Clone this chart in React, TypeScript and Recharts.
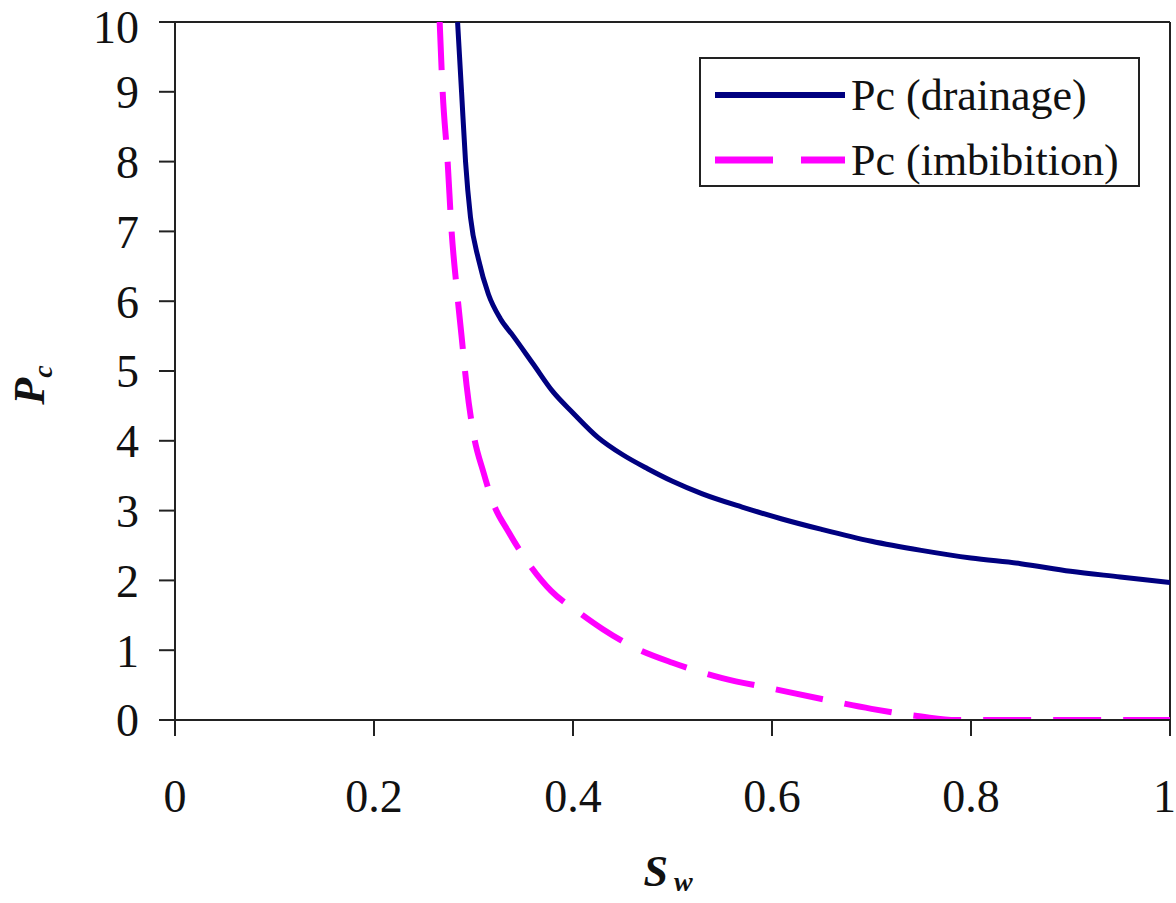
import React from "react";
import {
  LineChart,
  Line,
  XAxis,
  YAxis,
  Legend,
  ReferenceLine,
  Label,
} from "recharts";

// Pc vs Sw, drainage and imbibition
const drainageSw = [0.284, 0.288, 0.292, 0.297, 0.305, 0.315, 0.327, 0.34, 0.36, 0.38, 0.4, 0.425, 0.45, 0.475, 0.5, 0.53, 0.57, 0.61, 0.65, 0.7, 0.75, 0.8, 0.85, 0.9, 0.95, 1.0];
const drainagePc = [10, 9, 8, 7.2, 6.6, 6.1, 5.75, 5.5, 5.1, 4.7, 4.4, 4.05, 3.8, 3.6, 3.42, 3.24, 3.05, 2.88, 2.73, 2.56, 2.43, 2.32, 2.24, 2.13, 2.05, 1.97];

const imbibitionSw = [0.266, 0.269, 0.274, 0.278, 0.283, 0.288, 0.293, 0.3, 0.31, 0.32, 0.335, 0.355, 0.378, 0.405, 0.43, 0.46, 0.5, 0.55, 0.6, 0.65, 0.7, 0.75, 0.785, 0.85, 1.0];
const imbibitionPc = [10, 9, 8, 7, 6.2, 5.5, 4.8, 4.1, 3.55, 3.1, 2.7, 2.25, 1.85, 1.55, 1.3, 1.05, 0.82, 0.6, 0.45, 0.3, 0.16, 0.05, 0, 0, 0];

const xTicks = [0, 0.2, 0.4, 0.6, 0.8, 1];
const yTicks = [0, 1, 2, 3, 4, 5, 6, 7, 8, 9, 10];

const seriesNames = ["Pc (drainage)", "Pc (imbibition)"];

const drainage = drainageSw.map((sw, i) => ({ sw, pc: drainagePc[i] }));
const imbibition = imbibitionSw.map((sw, i) => ({ sw, pc: imbibitionPc[i] }));

const FONT = "'Liberation Serif', 'Times New Roman', serif";
const NAVY = "#000080";
const MAGENTA = "#ff00ff";

const LegendBox = () => (
  <div
    style={{
      width: 437,
      height: 126,
      border: "2px solid #222",
      background: "#fff",
      fontFamily: FONT,
      fontSize: 44,
      color: "#111",
      position: "relative",
    }}
  >
    {seriesNames.map((name, i) => (
      <div
        key={name}
        style={{
          position: "absolute",
          left: 12,
          top: i === 0 ? 10 : 75,
          height: 52,
          display: "flex",
          alignItems: "center",
          whiteSpace: "nowrap",
        }}
      >
        <svg width={134} height={12} style={{ marginRight: 4 }}>
          <line
            x1={2}
            y1={6}
            x2={132}
            y2={6}
            stroke={i === 0 ? NAVY : MAGENTA}
            strokeWidth={i === 0 ? 6 : 7}
            strokeDasharray={i === 0 ? undefined : "58 28"}
          />
        </svg>
        <span>{name}</span>
      </div>
    ))}
  </div>
);

const YTitle = () => (
  <text
    transform="translate(44,385) rotate(-90)"
    textAnchor="middle"
    fontFamily={FONT}
    fontSize={44}
    fontWeight="bold"
    fontStyle="italic"
    fill="#111"
  >
    P<tspan fontSize={28} dy={8}>c</tspan>
  </text>
);

const XTitle = () => (
  <text
    x={668}
    y={886}
    textAnchor="middle"
    fontFamily={FONT}
    fontSize={44}
    fontWeight="bold"
    fontStyle="italic"
    fill="#111"
  >
    S<tspan fontSize={28} dx={6} dy={5}>w</tspan>
  </text>
);

export default function App() {
  return (
    <div style={{ position: "absolute", left: 0, top: 0, background: "#fff" }}>
      <LineChart
        width={1176}
        height={903}
        margin={{ top: 22, right: 6, bottom: 83, left: 75 }}
      >
        <XAxis
          type="number"
          dataKey="sw"
          domain={[0, 1]}
          ticks={xTicks}
          tickFormatter={(v) => String(v)}
          allowDataOverflow
          height={100}
          tickSize={16}
          tickMargin={43}
          stroke="#222"
          strokeWidth={2}
          tick={{ fill: "#111", fontSize: 46, fontFamily: FONT }}
        >
          <Label content={XTitle} />
        </XAxis>
        <YAxis
          type="number"
          domain={[0, 10]}
          ticks={yTicks}
          allowDataOverflow
          width={100}
          tickSize={16}
          tickMargin={20}
          stroke="#222"
          strokeWidth={2}
          tick={{ fill: "#111", fontSize: 46, fontFamily: FONT }}
        >
          <Label content={YTitle} />
        </YAxis>
        <ReferenceLine y={10} stroke="#222" strokeWidth={2} />
        <ReferenceLine x={1} stroke="#222" strokeWidth={2} />
        <Legend
          layout="vertical"
          align="center"
          verticalAlign="middle"
          content={LegendBox}
          wrapperStyle={{ left: 699, top: 57, width: 441, height: 130 }}
        />
        <Line
          data={imbibition}
          dataKey="pc"
          name={seriesNames[1]}
          type="monotone"
          stroke={MAGENTA}
          strokeWidth={6}
          strokeDasharray="48 22"
          dot={false}
          isAnimationActive={false}
        />
        <Line
          data={drainage}
          dataKey="pc"
          name={seriesNames[0]}
          type="monotone"
          stroke={NAVY}
          strokeWidth={5}
          dot={false}
          isAnimationActive={false}
        />
      </LineChart>
    </div>
  );
}
